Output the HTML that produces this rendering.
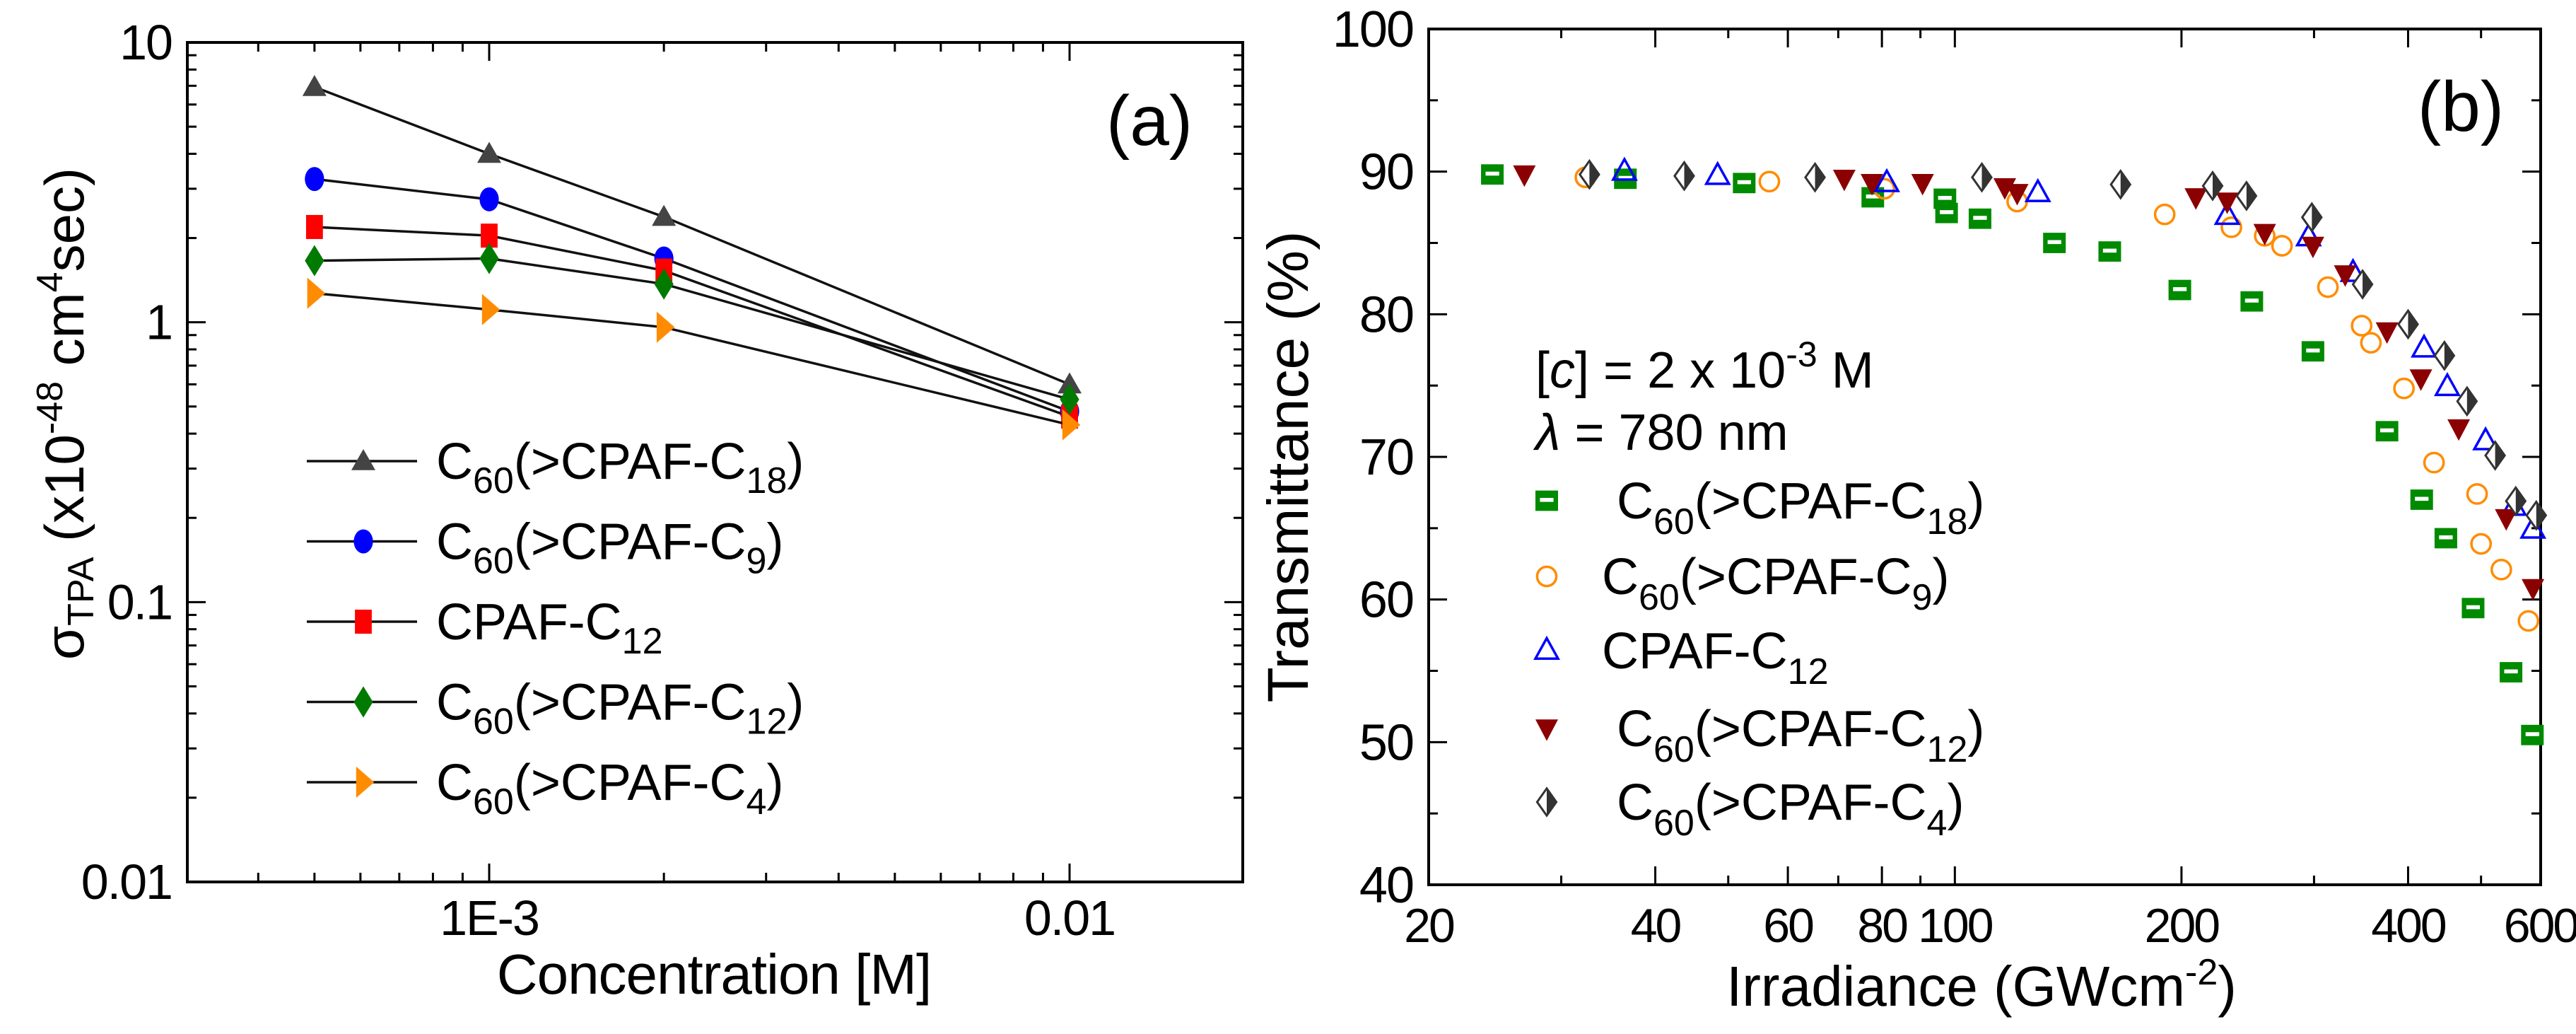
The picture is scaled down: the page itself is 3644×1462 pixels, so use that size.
<!DOCTYPE html>
<html><head><meta charset="utf-8"><style>
html,body{margin:0;padding:0;background:#fff;}
svg{display:block;font-family:"Liberation Sans",Arial,sans-serif;}
</style></head><body>
<svg id="fig" width="3644" height="1462" viewBox="0 0 3644 1462" xmlns="http://www.w3.org/2000/svg">
<g id="pa"></g>
<g id="pb"></g>
</svg>
<script>
// ---------- Panel (a) data ----------
const aConc = [5e-4, 1e-3, 2e-3, 1e-2];
const aC18 = [6.93, 4.0, 2.38, 0.60];
const aC9 = [3.25, 2.75, 1.69, 0.48];
const aCPAF12 = [2.19, 2.04, 1.53, 0.46];
const aC12 = [1.66, 1.69, 1.37, 0.53];
const aC4 = [1.27, 1.11, 0.96, 0.43];
const aYTicks = [10, 1, 0.1, 0.01];
const aYTickLabels = ["10", "1", "0.1", "0.01"];
const aXTicks = [1e-3, 1e-2];
const aXTickLabels = ["1E-3", "0.01"];

// ---------- Panel (b) data ----------
const bC18x = [24.3,36.5,52.5,77.8,97,97.5,108,135.6,160.6,199,248,299,375,417,449,488,548,585];
const bC18y = [89.8,89.5,89.2,88.2,88.1,87.1,86.7,85.0,84.4,81.7,80.9,77.4,71.8,67.0,64.3,59.4,54.9,50.5];
const bC9x = [32.3,56.7,80.6,121,190,233,258,272,313,347,357,395,433,494,500,532,578];
const bC9y = [89.6,89.3,88.8,87.9,87.0,86.1,85.5,84.8,81.9,79.2,78.0,74.8,69.6,67.4,63.9,62.1,58.5];
const bCPAFx = [36.4,48.4,81.2,128.9,230,295,338,420,451,507,553,586];
const bCPAFy = [90.0,89.7,89.2,88.5,86.9,85.4,82.9,77.6,74.9,71.1,66.5,64.9];
const bC12x = [26.8,71.3,77.6,90.6,116.5,121,209,230,258,299,330,375,416,467,540,586];
const bC12y = [89.8,89.5,89.2,89.2,88.9,88.5,88.2,87.9,85.7,84.8,82.8,78.8,75.5,72.0,65.7,60.8];
const bC4x = [32.7,43.7,65.2,108.6,166,220,244,298,348,400,447,479,522,556,592];
const bC4y = [89.8,89.7,89.6,89.6,89.1,89.0,88.3,86.8,82.1,79.3,77.1,73.9,70.1,66.9,65.9];
const bYTicks = [40,50,60,70,80,90,100];
const bXTicks = [20,40,60,80,100,200,400,600];
const bXTickLabels = ["20","40","60","80","100","200","400","600"];

const NS = "http://www.w3.org/2000/svg";
function mk(parent, tag, attrs, text){
  const e = document.createElementNS(NS, tag);
  for (const k in attrs) e.setAttribute(k, attrs[k]);
  if (text !== undefined) e.textContent = text;
  parent.appendChild(e);
  return e;
}

// ================= PANEL A =================
const pa = document.getElementById('pa');
const aL=265, aR=1758, aT=60, aB=1247;
const ax = v => 692 + (Math.log10(v) + 3) * 821;
const ay = v => aT + (1 - Math.log10(v)) * (aB - aT) / 3;

let frame = mk(pa,'rect',{x:aL,y:aT,width:aR-aL,height:aB-aT,fill:'none',stroke:'#000','stroke-width':4});



for (let d=-2; d<=1; d++){
  for (let m=1; m<=9; m++){
    const v = m*Math.pow(10,d-1);
    if (v<0.01 || v>10) continue;
    const y = ay(v), len = m===1?26:13;
    let t1 = mk(pa,'line',{x1:aL,y1:y,x2:aL+len,y2:y,stroke:'#000','stroke-width':3});
    
    
    let t2 = mk(pa,'line',{x1:aR,y1:y,x2:aR-len,y2:y,stroke:'#000','stroke-width':3});
    
    
  }
}
aYTicks.forEach((v,i)=>{
  let t = mk(pa,'text',{x:aL-22,y:ay(v)+24,'text-anchor':'end','font-size':70,'letter-spacing':-2},aYTickLabels[i]);
  
  
});
for (let d=-4; d<=-2; d++){
  for (let m=1; m<=9; m++){
    const v = m*Math.pow(10,d);
    const x = ax(v);
    if (x<aL+2 || x>aR-2) continue;
    const len = m===1?26:13;
    let t1 = mk(pa,'line',{x1:x,y1:aB,x2:x,y2:aB-len,stroke:'#000','stroke-width':3});
    
    
    let t2 = mk(pa,'line',{x1:x,y1:aT,x2:x,y2:aT+len,stroke:'#000','stroke-width':3});
    
    
  }
}
aXTicks.forEach((v,i)=>{
  let t = mk(pa,'text',{x:ax(v),y:1322,'text-anchor':'middle','font-size':70,'letter-spacing':-2},aXTickLabels[i]);
  
  
});
let xla = mk(pa,'text',{x:1010,y:1405,'text-anchor':'middle','font-size':80,'letter-spacing':-1},'Concentration [M]');



let yla = mk(pa,'text',{x:0,y:0,'text-anchor':'middle','font-size':78,transform:'translate(118,585) rotate(-90)'});


yla.innerHTML = 'σ<tspan font-size="52" dy="14">TPA</tspan><tspan dy="-14"> (x10</tspan><tspan font-size="52" dy="-30">-48</tspan><tspan dy="30"> cm</tspan><tspan font-size="52" dy="-30">4</tspan><tspan dy="30">sec)</tspan>';

let lab = mk(pa,'text',{x:1626,y:205,'text-anchor':'middle','font-size':100},'(a)');



function markerA(g, type, x, y, color, s){
  let e;
  if (type==='tri') e = mk(g,'polygon',{points:`${x},${y-s} ${x-s},${y+s*0.75} ${x+s},${y+s*0.75}`,fill:color});
  else if (type==='circ') e = mk(g,'ellipse',{cx:x,cy:y,rx:s*0.8,ry:s,fill:color});
  else if (type==='sq') e = mk(g,'rect',{x:x-s*0.7,y:y-s,width:s*1.4,height:s*2,fill:color});
  else if (type==='dia') e = mk(g,'polygon',{points:`${x},${y-s*1.3} ${x+s*0.8},${y} ${x},${y+s*1.3} ${x-s*0.8},${y}`,fill:color});
  else e = mk(g,'polygon',{points:`${x-s*0.6},${y-s*1.3} ${x+s*0.9},${y} ${x-s*0.6},${y+s*1.3}`,fill:color});
  return e;
}
const aSeries = [
  {name:'c60-cpaf-c18', vals:aC18, type:'tri', color:'#444', sub:'18', pre:true},
  {name:'c60-cpaf-c9', vals:aC9, type:'circ', color:'#0000ff', sub:'9', pre:true},
  {name:'cpaf-c12', vals:aCPAF12, type:'sq', color:'#ff0000', sub:'12', pre:false},
  {name:'c60-cpaf-c12', vals:aC12, type:'dia', color:'#007a00', sub:'12', pre:true},
  {name:'c60-cpaf-c4', vals:aC4, type:'rtri', color:'#ff8c00', sub:'4', pre:true},
];
aSeries.forEach((s,si)=>{
  const g = mk(pa,'g',{});
  
  
  const pts = aConc.map((c,i)=>`${ax(c)},${ay(s.vals[i])}`).join(' ');
  let pl = mk(g,'polyline',{points:pts,fill:'none',stroke:'#111','stroke-width':3.5});
  
  
  aConc.forEach((c,i)=>{
    let m = markerA(g,s.type,ax(c),ay(s.vals[i]),s.color,17);
    
    
  });
  const ly = 652 + si*113.5;
  const lg = mk(pa,'g',{});
  
  
  mk(lg,'line',{x1:434,y1:ly,x2:590,y2:ly,stroke:'#111','stroke-width':3.5});
  markerA(lg,s.type,514,ly,s.color,17);
  const t = mk(lg,'text',{x:617,y:ly+25,'font-size':72});
  if (s.pre) t.innerHTML = `C<tspan font-size="52" dy="20">60</tspan><tspan dy="-20">(&gt;CPAF-C</tspan><tspan font-size="52" dy="20">${s.sub}</tspan><tspan dy="-20">)</tspan>`;
  else t.innerHTML = `CPAF-C<tspan font-size="52" dy="20">${s.sub}</tspan>`;
});

// ================= PANEL B =================
const pb = document.getElementById('pb');
const bL=2021, bR=3594, bT=41, bB=1251;
const bx = v => bL + (Math.log10(v) - Math.log10(20)) / Math.log10(30) * (bR-bL);
const by = v => bB - (v-40)/60*(bB-bT);
let frameB = mk(pb,'rect',{x:bL,y:bT,width:bR-bL,height:bB-bT,fill:'none',stroke:'#000','stroke-width':4});


for (let v=40; v<=100; v+=5){
  const len = v%10===0?26:13;
  let t1 = mk(pb,'line',{x1:bL,y1:by(v),x2:bL+len,y2:by(v),stroke:'#000','stroke-width':3});
  
  
  let t2 = mk(pb,'line',{x1:bR,y1:by(v),x2:bR-len,y2:by(v),stroke:'#000','stroke-width':3});
  
  
}
bYTicks.forEach(v=>{
  let t = mk(pb,'text',{x:bL-22,y:by(v)+25,'text-anchor':'end','font-size':72,'letter-spacing':-2},String(v));
  
  
});
const bMinor = [30,50,70,90,300,500];
bXTicks.concat(bMinor).forEach(v=>{
  const len = bXTicks.includes(v)?26:13;
  let t1 = mk(pb,'line',{x1:bx(v),y1:bB,x2:bx(v),y2:bB-len,stroke:'#000','stroke-width':3});
  
  
  let t2 = mk(pb,'line',{x1:bx(v),y1:bT,x2:bx(v),y2:bT+len,stroke:'#000','stroke-width':3});
  
  
});
bXTicks.forEach((v,i)=>{
  let t = mk(pb,'text',{x:bx(v),y:1332,'text-anchor':'middle','font-size':68,'letter-spacing':-3},bXTickLabels[i]);
  
  
});
let xlb = mk(pb,'text',{x:2803,y:1422,'text-anchor':'middle','font-size':80});


xlb.innerHTML = 'Irradiance (GWcm<tspan font-size="52" dy="-30">-2</tspan><tspan dy="30">)</tspan>';
let ylb = mk(pb,'text',{x:0,y:0,'text-anchor':'middle','font-size':82,transform:'translate(1850,660) rotate(-90)'},'Transmittance (%)');


let labb = mk(pb,'text',{x:3481,y:185,'text-anchor':'middle','font-size':100},'(b)');



function markerB(g,type,x,y,s){
  const e = mk(g,'g',{});
  if (type==='sq'){
    mk(e,'rect',{x:x-s,y:y-s*0.9,width:s*2,height:s*1.8,fill:'#008a00'});
    mk(e,'rect',{x:x-s*0.6,y:y-s*0.25,width:s*1.2,height:s*0.35,fill:'#fff'});
  } else if (type==='circ'){
    mk(e,'circle',{cx:x,cy:y,r:s*0.85,fill:'none',stroke:'#ff8c00','stroke-width':3.5});
  } else if (type==='tri'){
    mk(e,'polygon',{points:`${x},${y-s*1.1} ${x-s},${y+s*0.7} ${x+s},${y+s*0.7}`,fill:'none',stroke:'#0000ff','stroke-width':3.5});
  } else if (type==='dtri'){
    mk(e,'polygon',{points:`${x-s},${y-s*0.8} ${x+s},${y-s*0.8} ${x},${y+s*1.1}`,fill:'#8b0000'});
  } else {
    mk(e,'polygon',{points:`${x},${y-s*1.2} ${x+s*0.85},${y} ${x},${y+s*1.2} ${x-s*0.85},${y}`,fill:'#fff',stroke:'#333','stroke-width':3});
    mk(e,'polygon',{points:`${x},${y-s*1.2} ${x+s*0.85},${y} ${x},${y+s*1.2}`,fill:'#333'});
  }
  return e;
}
const bSeries = [
  {name:'c60-cpaf-c18', xs:bC18x, ys:bC18y, type:'sq', sub:'18', pre:true, tx:2287},
  {name:'c60-cpaf-c9', xs:bC9x, ys:bC9y, type:'circ', sub:'9', pre:true, tx:2266},
  {name:'cpaf-c12', xs:bCPAFx, ys:bCPAFy, type:'tri', sub:'12', pre:false, tx:2266},
  {name:'c60-cpaf-c12', xs:bC12x, ys:bC12y, type:'dtri', sub:'12', pre:true, tx:2287},
  {name:'c60-cpaf-c4', xs:bC4x, ys:bC4y, type:'dia', sub:'4', pre:true, tx:2287},
];
bSeries.forEach((s,si)=>{
  const g = mk(pb,'g',{});
  
  
  s.xs.forEach((xv,i)=>{
    let m = markerB(g,s.type,bx(xv),by(s.ys[i]),16);
    
    
  });
  const ly = [708,815,920,1030,1134][si];
  const lg = mk(pb,'g',{});
  
  
  markerB(lg,s.type,2188,ly,16);
  const t = mk(lg,'text',{x:s.tx,y:ly+25,'font-size':72});
  if (s.pre) t.innerHTML = `C<tspan font-size="52" dy="22">60</tspan><tspan dy="-22">(&gt;CPAF-C</tspan><tspan font-size="52" dy="22">${s.sub}</tspan><tspan dy="-22">)</tspan>`;
  else t.innerHTML = `CPAF-C<tspan font-size="52" dy="22">${s.sub}</tspan>`;
});
let note1 = mk(pb,'text',{x:2172,y:548,'font-size':72});


note1.innerHTML = '[<tspan font-style="italic">c</tspan>] = 2 x 10<tspan font-size="50" dy="-30">-3</tspan><tspan dy="30"> M</tspan>';
let note2 = mk(pb,'text',{x:2172,y:636,'font-size':72});


note2.innerHTML = '<tspan font-style="italic">λ</tspan> = 780 nm';
</script>
</body></html>
